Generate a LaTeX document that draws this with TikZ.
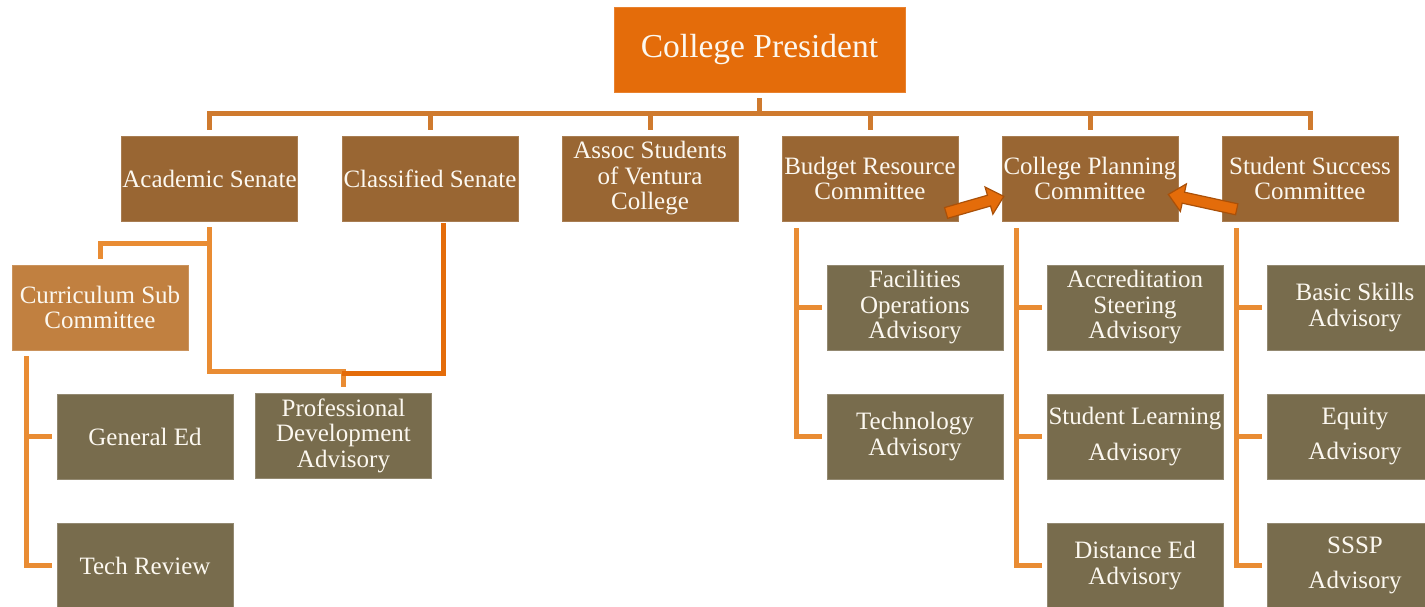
\documentclass[tikz,border=0pt]{standalone}
\usepackage{fontspec}
\setmainfont{Liberation Serif}
\usetikzlibrary{shapes.arrows}
\definecolor{presC}{RGB}{228,108,10}
\definecolor{lvlC}{RGB}{153,102,51}
\definecolor{currC}{RGB}{193,128,64}
\definecolor{oliveC}{RGB}{120,108,77}
\definecolor{txtC}{RGB}{252,248,240}
\definecolor{busC}{RGB}{207,122,46}
\definecolor{subC}{RGB}{233,140,51}
\definecolor{clsC}{RGB}{228,108,10}
\definecolor{arrB}{RGB}{170,80,8}
\begin{document}
\begin{tikzpicture}[x=1pt,y=-1pt,
  box/.style={rectangle, minimum width=176pt, minimum height=85pt, inner sep=0pt,
    align=center, text=txtC, font=\fontsize{25}{25.5}\selectfont, line width=0.6pt},
  lvl/.style={box, fill=lvlC, draw=lvlC!85!white},
  currbox/.style={box, fill=currC, draw=currC!85!white},
  adv/.style={box, fill=oliveC, draw=oliveC!80!white},
  bus/.style={draw=busC, line width=5pt},
  sub/.style={draw=subC, line width=5pt},
  clsline/.style={draw=clsC, line width=5pt},
  blockarrow/.style={single arrow, fill=presC, draw=arrB, line width=1.2pt,
    inner xsep=0pt, inner ysep=5pt, single arrow head extend=8.5pt,
    single arrow tip angle=85}
]
\useasboundingbox (0,0) rectangle (1425,606);
\clip (0,0) rectangle (1425,606);

% top
\node[box, fill=presC, draw=presC!85!white, minimum width=291pt,
  font=\fontsize{33.5}{40}\selectfont] (pres) at (759.5,49.5) {College President};

% level 2
\node[lvl] (acad) at (209.5,178.5) {Academic Senate};
\node[lvl] (cls)  at (430,178.5) {Classified Senate};
\node[lvl] (asvc) at (650,178.5) {Assoc Students\\of Ventura\\College};
\node[lvl] (bud)  at (870,178.5) {Budget Resource\\Committee};
\node[lvl] (cpc)  at (1090,178.5) {College Planning\\Committee};
\node[lvl] (ssc)  at (1310,178.5) {Student Success\\Committee};

% level 3
\node[currbox] (curr) at (100,307.5) {Curriculum Sub\\Committee};
\node[adv] (gened) at (145,436.5) {General Ed};
\node[adv] (techrev) at (145,565.5) {Tech Review};
\node[adv] (prof) at (343.5,435.5) {Professional\\Development\\Advisory};

\node[adv] (fac) at (915,307.5) {Facilities\\Operations\\Advisory};
\node[adv] (techadv) at (915,436.5) {Technology\\Advisory};

\node[adv] (accr) at (1135,307.5) {Accreditation\\Steering\\Advisory};
\node[adv] (slo) at (1135,436.5) {Student Learning\\[10pt]Advisory};
\node[adv] (dist) at (1135,565.5) {Distance Ed\\Advisory};

\node[adv] (basic) at (1355,307.5) {Basic Skills\\Advisory};
\node[adv] (equity) at (1355,436.5) {Equity\\[10pt]Advisory};
\node[adv] (sssp) at (1355,565.5) {SSSP\\[10pt]Advisory};

% bus
\coordinate (busy) at (0,113);
\draw[bus] ([yshift=-6pt]pres.south) -- (pres.south |- busy);
\draw[bus, line join=miter] ([yshift=6pt]acad.north) |- (ssc.north |- busy) -- ([yshift=6pt]ssc.north);
\foreach \n in {cls,asvc,bud,cpc}
  \draw[bus] ([yshift=6pt]\n.north) -- (\n.north |- busy);

% academic senate branches
\draw[sub] ([yshift=-22pt]acad.south) -| ([yshift=6pt]curr.north);
\draw[sub] ([yshift=-6pt]acad.south) |- ([yshift=21pt]prof.north) -- ([yshift=6pt]prof.north);
\draw[clsline] ([xshift=13pt,yshift=-2pt]cls.south) |- ([xshift=-2pt,yshift=19pt]prof.north);

% curriculum children
\draw[sub] ([xshift=15pt,yshift=-6pt]curr.south west) |- ([xshift=-5pt]techrev.west);
\draw[sub] ([xshift=-30pt]gened.west) -- ([xshift=-5pt]gened.west);

% budget children
\draw[sub] ([xshift=15pt,yshift=-7pt]bud.south west) |- ([xshift=-5pt]techadv.west);
\draw[sub] ([xshift=-30pt]fac.west) -- ([xshift=-5pt]fac.west);

% college planning children
\draw[sub] ([xshift=15pt,yshift=-7pt]cpc.south west) |- ([xshift=-5pt]dist.west);
\draw[sub] ([xshift=-30pt]accr.west) -- ([xshift=-5pt]accr.west);
\draw[sub] ([xshift=-30pt]slo.west) -- ([xshift=-5pt]slo.west);

% student success children
\draw[sub] ([xshift=15pt,yshift=-7pt]ssc.south west) |- ([xshift=-5pt]sssp.west);
\draw[sub] ([xshift=-30pt]basic.west) -- ([xshift=-5pt]basic.west);
\draw[sub] ([xshift=-30pt]equity.west) -- ([xshift=-5pt]equity.west);

% block arrows
\node[blockarrow, minimum height=60pt, rotate=16] (arrA) at (972,205.5) {};
\node[blockarrow, minimum height=70pt, rotate=167.7] (arrB) at (1205.5,202.5) {};
\end{tikzpicture}
\end{document}
